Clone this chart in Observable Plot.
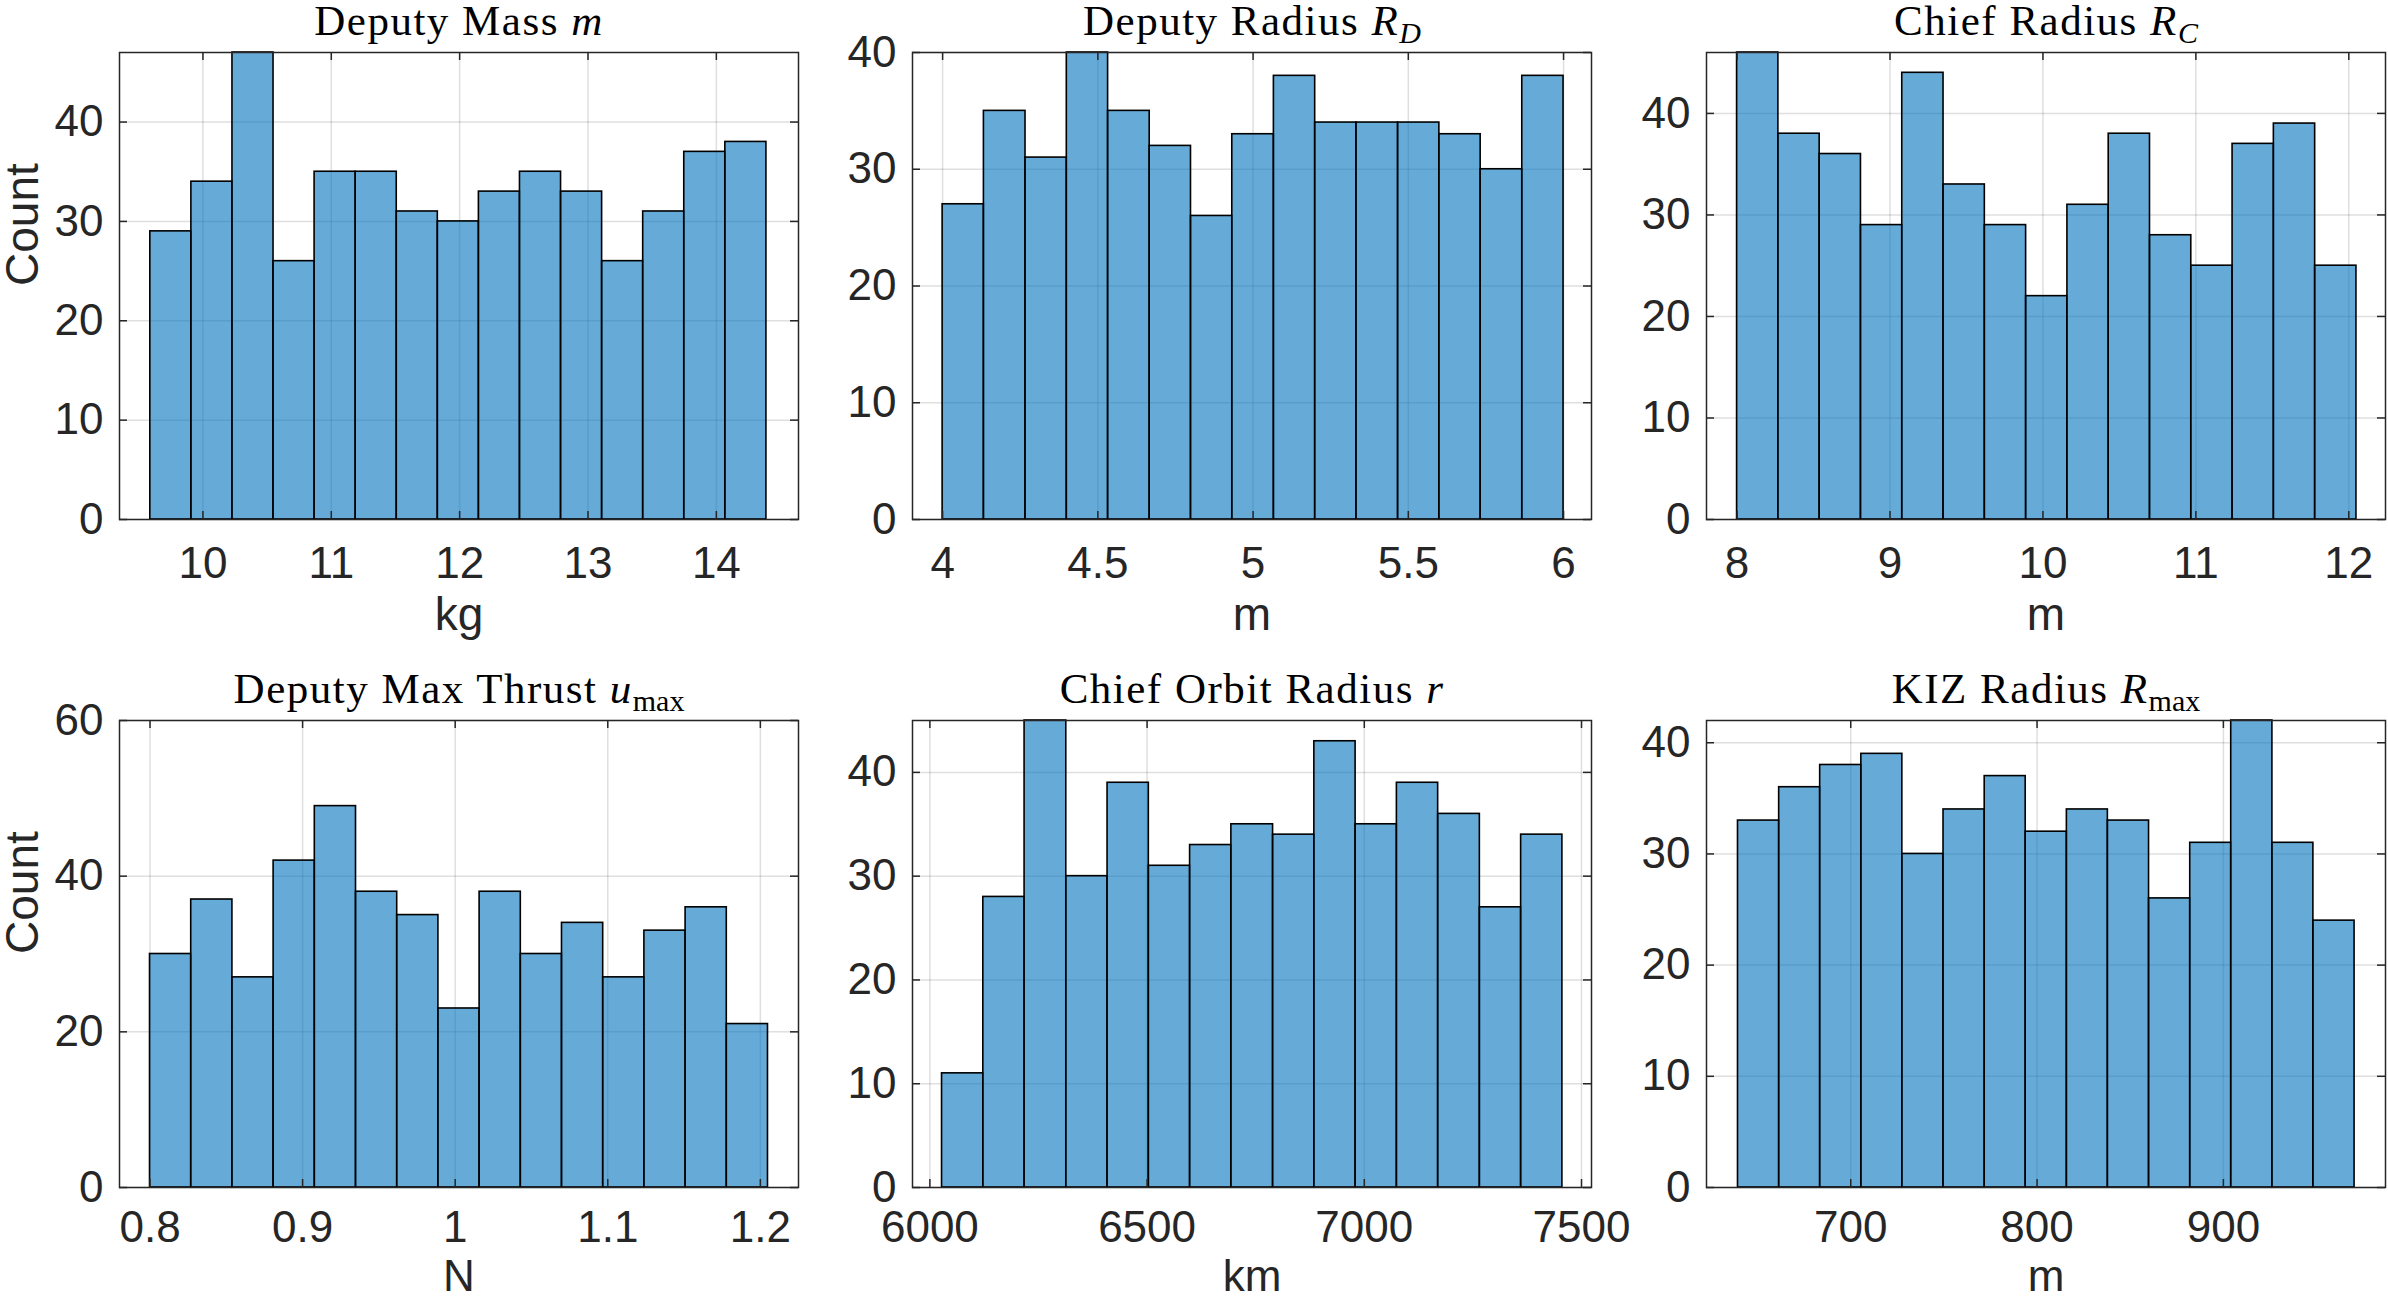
<!DOCTYPE html>
<html><head><meta charset="utf-8">
<script src="https://cdn.jsdelivr.net/npm/d3@7"></script>
<script src="https://cdn.jsdelivr.net/npm/@observablehq/plot@0.6"></script>
<style>
html,body{margin:0;padding:0;background:#fff;overflow:hidden;}
#wrap{position:relative;width:2388px;height:1300px;}
#wrap > div{position:absolute;}
</style></head><body><div id="wrap"></div>
<script>
// ---- data ----
const massEdges = [9.59, 9.91, 10.23, 10.55, 10.87, 11.19, 11.51, 11.83, 12.15, 12.47, 12.79, 13.11, 13.43, 13.75, 14.07, 14.39];
const massCounts = [29, 34, 47, 26, 35, 35, 31, 30, 33, 35, 33, 26, 31, 37, 38];
const massTicks = [10, 11, 12, 13, 14];

const depRadiusEdges = [4.0, 4.133, 4.267, 4.4, 4.533, 4.667, 4.8, 4.933, 5.067, 5.2, 5.333, 5.467, 5.6, 5.733, 5.867, 6.0];
const depRadiusCounts = [27, 35, 31, 40, 35, 32, 26, 33, 38, 34, 34, 34, 33, 30, 38];
const depRadiusTicks = [4, 4.5, 5, 5.5, 6];

const chiefRadiusEdges = [8.0, 8.27, 8.54, 8.81, 9.08, 9.35, 9.62, 9.89, 10.16, 10.43, 10.70, 10.97, 11.24, 11.51, 11.78, 12.05];
const chiefRadiusCounts = [46, 38, 36, 29, 44, 33, 29, 22, 31, 38, 28, 25, 37, 39, 25];
const chiefRadiusTicks = [8, 9, 10, 11, 12];

const thrustEdges = [0.8, 0.827, 0.854, 0.881, 0.908, 0.935, 0.962, 0.989, 1.016, 1.043, 1.07, 1.097, 1.124, 1.151, 1.178, 1.205];
const thrustCounts = [30, 37, 27, 42, 49, 38, 35, 23, 38, 30, 34, 27, 33, 36, 21];
const thrustTicks = [0.8, 0.9, 1, 1.1, 1.2];

const orbitEdges = [6028, 6123, 6218, 6314, 6409, 6504, 6599, 6694, 6790, 6885, 6980, 7075, 7170, 7266, 7361, 7456];
const orbitCounts = [11, 28, 45, 30, 39, 31, 33, 35, 34, 43, 35, 39, 36, 27, 34];
const orbitTicks = [6000, 6500, 7000, 7500];

const kizEdges = [639.5, 661.6, 683.6, 705.7, 727.7, 749.8, 771.9, 793.9, 816.0, 838.0, 860.1, 882.2, 904.2, 926.3, 948.3, 970.4];
const kizCounts = [33, 36, 38, 39, 30, 34, 37, 32, 34, 33, 26, 31, 42, 31, 24];
const kizTicks = [700, 800, 900];

const titleParts = [
  [["Deputy Mass ", "n"], ["m", "i"]],
  [["Deputy Radius ", "n"], ["R", "i"], ["D", "si"]],
  [["Chief Radius ", "n"], ["R", "i"], ["C", "si"]],
  [["Deputy Max Thrust ", "n"], ["u", "i"], ["max", "sn"]],
  [["Chief Orbit Radius ", "n"], ["r", "i"]],
  [["KIZ Radius ", "n"], ["R", "i"], ["max", "sn"]]
];
const xLabels = ["kg", "m", "m", "N", "km", "m"];
const yLabel = "Count";

const xDomains = [[9.35, 14.64], [3.903, 6.09], [7.8, 12.24], [0.78, 1.225], [5960, 7523], [622.6, 987]];
const yMax = [47, 40, 46, 60, 45, 42];
const yTicks = [[0, 10, 20, 30, 40], [0, 10, 20, 30, 40], [0, 10, 20, 30, 40], [0, 20, 40, 60], [0, 10, 20, 30, 40], [0, 10, 20, 30, 40]];

const panels = [
  {edges: massEdges, counts: massCounts, ticks: massTicks},
  {edges: depRadiusEdges, counts: depRadiusCounts, ticks: depRadiusTicks},
  {edges: chiefRadiusEdges, counts: chiefRadiusCounts, ticks: chiefRadiusTicks},
  {edges: thrustEdges, counts: thrustCounts, ticks: thrustTicks},
  {edges: orbitEdges, counts: orbitCounts, ticks: orbitTicks},
  {edges: kizEdges, counts: kizCounts, ticks: kizTicks}
];

// ---- layout ----
const FW = 679, FH = 467, ML = 119, MT = 52, MB = 112, MR = 3;
const colLeft = [119, 912, 1706];
const rowTop = [52, 720];
const xLabelDy = [96, 89];
const xLabelSize = [46, 44];
const xTickPad = [27, 23];
const AX = "#262626";
const TICK_LEN = 8;

const wrap = document.getElementById("wrap");
const svgNS = "http://www.w3.org/2000/svg";

panels.forEach((p, k) => {
  const col = k % 3, row = Math.floor(k / 3);
  const rows = p.counts.map((c, i) => ({x1: p.edges[i], x2: p.edges[i + 1], count: c}));
  const plain = titleParts[k].map(d => d[0]).join("");
  const marks = [
    Plot.gridX(p.ticks, {stroke: AX, strokeOpacity: 0.15, strokeWidth: 1.5}),
    Plot.gridY(yTicks[k], {stroke: AX, strokeOpacity: 0.15, strokeWidth: 1.5}),
    Plot.rectY(rows, {x1: "x1", x2: "x2", y: "count", fill: "#0072BD", fillOpacity: 0.6, stroke: "#000", strokeWidth: 1.6}),
    Plot.ruleX(p.ticks, {x: d => d, insetTop: FH - TICK_LEN, stroke: AX, strokeWidth: 1.5}),
    Plot.ruleX(p.ticks, {x: d => d, insetBottom: FH - TICK_LEN, stroke: AX, strokeWidth: 1.5}),
    Plot.ruleY(yTicks[k], {y: d => d, insetRight: FW - TICK_LEN, stroke: AX, strokeWidth: 1.5}),
    Plot.ruleY(yTicks[k], {y: d => d, insetLeft: FW - TICK_LEN, stroke: AX, strokeWidth: 1.5}),
    Plot.axisX(p.ticks, {tickSize: 0, tickPadding: xTickPad[row], tickFormat: d => String(d), label: null, fontSize: 44, fill: AX}),
    Plot.axisY(yTicks[k], {tickSize: 0, tickPadding: 16, tickFormat: d => String(d), label: null, fontSize: 44, fill: AX}),
    Plot.frame({stroke: AX, strokeWidth: 1.5}),
    Plot.text([plain], {frameAnchor: "top", lineAnchor: "bottom", dy: -18, text: d => d, fontFamily: "Liberation Serif", fontSize: 43, fill: "#000"}),
    Plot.text([xLabels[k]], {frameAnchor: "bottom", lineAnchor: "middle", dy: xLabelDy[row], text: d => d, fontSize: xLabelSize[row], fill: AX})
  ];
  if (col === 0) {
    marks.push(Plot.text([yLabel], {frameAnchor: "left", lineAnchor: "middle", rotate: -90, dx: -96, text: d => d, fontSize: 46, fill: AX}));
  }
  const chart = Plot.plot({
    width: ML + FW + MR,
    height: MT + FH + MB,
    marginLeft: ML, marginRight: MR, marginTop: MT, marginBottom: MB,
    x: {domain: xDomains[k]},
    y: {domain: [0, yMax[k]]},
    style: {background: "transparent", overflow: "visible", fontFamily: "'Liberation Sans', Arial, sans-serif", fontSize: "44px", color: AX},
    marks
  });
  // rich title: italic symbols and subscripts
  chart.querySelectorAll("text").forEach(t => {
    if (t.textContent === plain) {
      t.textContent = "";
      t.setAttribute("letter-spacing", "1.5");
      titleParts[k].forEach(([s, st]) => {
        const ts = document.createElementNS(svgNS, "tspan");
        ts.textContent = s;
        if (st.includes("i")) ts.setAttribute("font-style", "italic");
        if (st[0] === "s") {
          ts.setAttribute("font-size", "30");
          ts.setAttribute("dy", "8");
          ts.setAttribute("letter-spacing", "0");
        }
        t.appendChild(ts);
      });
    }
  });
  const holder = document.createElement("div");
  holder.style.left = (colLeft[col] - ML) + "px";
  holder.style.top = (rowTop[row] - MT) + "px";
  holder.appendChild(chart);
  wrap.appendChild(holder);
});
</script>
</body></html>
